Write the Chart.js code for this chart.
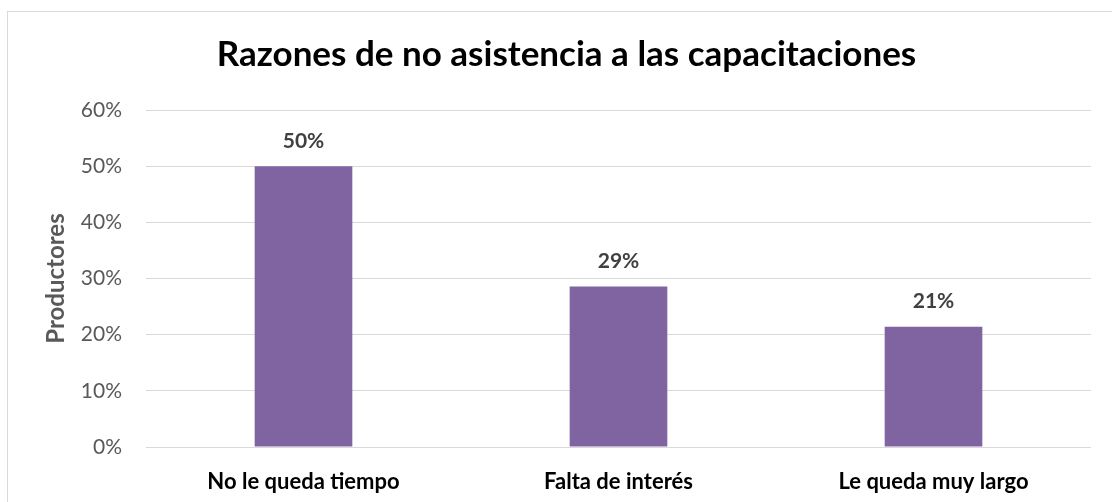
<!DOCTYPE html>
<html>
<head>
<meta charset="utf-8">
<script src="https://cdn.jsdelivr.net/npm/chart.js@4/dist/chart.umd.min.js"></script>
<style>
  body { margin: 0; background: #fff; }
  #frame { position: absolute; left: 7px; top: 11px; width: 1200px; height: 600px; border: 1px solid #d9d9d9; }
  #wrap { position: absolute; left: 0; top: 0; width: 1112px; height: 502px; }
</style>
</head>
<body>
<div id="frame"></div>
<div id="wrap"><canvas id="myChart"></canvas></div>
<script>
// chart data
const categories = ["No le queda tiempo", "Falta de interés", "Le queda muy largo"];
const values = [50, 28.57, 21.43];
const valueLabels = ["50%", "29%", "21%"];
const yTicks = [0, 10, 20, 30, 40, 50, 60];

const FONT = "Lato, 'Open Sans', sans-serif";

// draws the value above each bar
const barLabels = {
  id: "barLabels",
  afterDatasetsDraw(chart) {
    const ctx = chart.ctx;
    const meta = chart.getDatasetMeta(0);
    ctx.save();
    ctx.font = "bold 21px " + FONT;
    ctx.fillStyle = "#404040";
    ctx.textAlign = "center";
    ctx.textBaseline = "middle";
    meta.data.forEach((bar, i) => {
      ctx.fillText(valueLabels[i], bar.x, bar.y - 25);
    });
    ctx.restore();
  },
};

const ctx = document.getElementById("myChart").getContext("2d");
const myChart = new Chart(ctx, {
  type: "bar",
  data: {
    labels: categories,
    datasets: [
      {
        data: values,
        backgroundColor: "#8064A2",
        borderWidth: 0,
        barPercentage: 0.62,
        categoryPercentage: 0.5,
      },
    ],
  },
  options: {
    responsive: true,
    maintainAspectRatio: false,
    animation: false,
    layout: { padding: { left: 42, right: 21, top: 34, bottom: 0 } },
    plugins: {
      legend: { display: false },
      tooltip: { enabled: false },
      title: {
        display: true,
        text: "Razones de no asistencia a las capacitaciones",
        color: "#000",
        font: { family: FONT, size: 35, weight: "bold" },
        padding: { top: 0, bottom: 34 },
      },
    },
    scales: {
      x: {
        grid: { display: false },
        border: { display: false },
        ticks: {
          color: "#000",
          font: { family: FONT, size: 22, weight: "bold" },
          padding: 14,
        },
        afterFit: (s) => { s.height = 55; },
      },
      y: {
        min: 0,
        max: 60,
        afterBuildTicks: (s) => { s.ticks = yTicks.map((v) => ({ value: v })); },
        grid: { color: "#d9d9d9", lineWidth: 1, drawTicks: false },
        border: { display: false },
        ticks: {
          color: "#595959",
          font: { family: FONT, size: 21 },
          padding: 24,
          callback: (v) => v + "%",
        },
        title: {
          display: true,
          text: "Productores",
          color: "#595959",
          font: { family: FONT, size: 24, weight: "bold" },
          padding: 0,
        },
        afterFit: (s) => { s.width = 104; },
      },
    },
  },
  plugins: [barLabels],
});
</script>
</body>
</html>
